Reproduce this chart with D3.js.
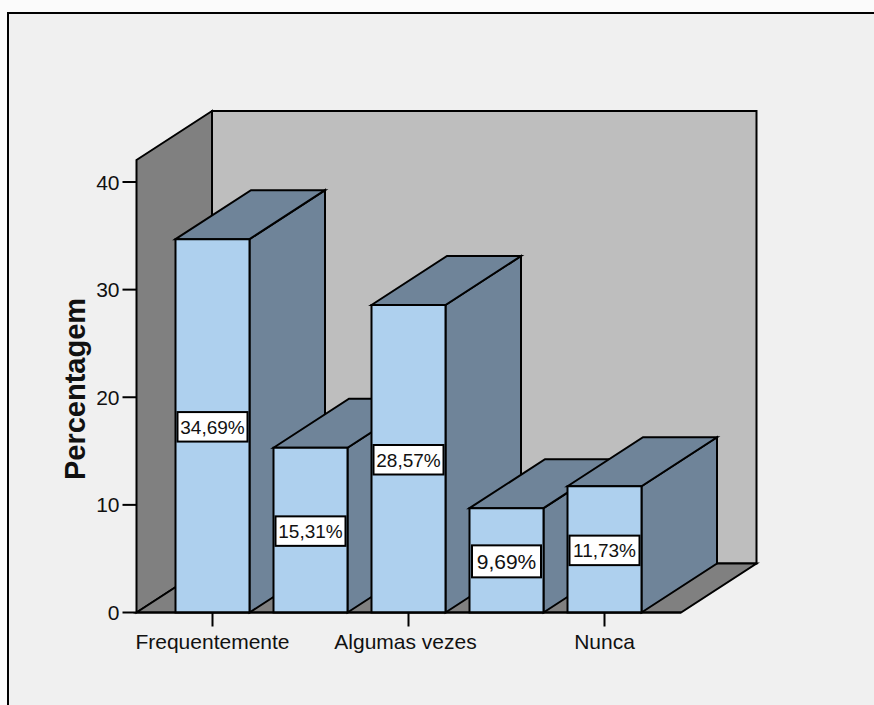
<!DOCTYPE html>
<html><head><meta charset="utf-8">
<script src="https://cdn.jsdelivr.net/npm/d3@7/dist/d3.min.js"></script>
<style>html,body{margin:0;padding:0;background:#f0f0f0}svg{display:block}text{font-family:"Liberation Sans",Arial,sans-serif;fill:#111}</style>
</head><body><svg id="c" width="874" height="705"></svg>
<script>
const categories = ["Frequentemente","Às vezes","Algumas vezes","Raramente","Nunca"];
const shownLabels = ["Frequentemente","Algumas vezes","Nunca"];
const values = [34.69,15.31,28.57,9.69,11.73];
const labels = ["34,69%","15,31%","28,57%","9,69%","11,73%"];
const yTicks = [0,10,20,30,40];
const yTitle = "Percentagem";

const svg = d3.select("#c");
const X0=136.5, X1=681, Y0=612.5, dx=75.5, dy=-49;
const y = d3.scaleLinear().domain([0,40]).range([Y0,182]);
const bw = 74;
const x = d3.scalePoint().domain(categories).range([212.5,604.5]);
const poly=(pts,fill,sw=2)=>svg.append("path").attr("d",d3.line()(pts)+"Z").attr("fill",fill).attr("stroke","#000").attr("stroke-width",sw).attr("stroke-linejoin","miter");

svg.append("rect").attr("width",874).attr("height",705).attr("fill","#fbfbfb");
svg.append("rect").attr("x",8).attr("y",13).attr("width",866).attr("height",692).attr("fill","#f0f0f0");
svg.append("path").attr("d","M8,705V13H874").attr("fill","none").attr("stroke","#000").attr("stroke-width",2);

const wallTop = 111-dy;
poly([[X0+dx,wallTop+dy],[X1+dx,wallTop+dy],[X1+dx,Y0+dy],[X0+dx,Y0+dy]],"#bebebe");
poly([[X0,wallTop],[X0+dx,wallTop+dy],[X0+dx,Y0+dy],[X0,Y0]],"#808080");
poly([[X0,Y0],[X0+dx,Y0+dy],[X1+dx,Y0+dy],[X1,Y0]],"#808080");

categories.forEach((c,i)=>{
  const l=x(c)-bw/2, r=l+bw, t=y(values[i]);
  poly([[r,t],[r+dx,t+dy],[r+dx,Y0+dy],[r,Y0]],"#6f8499");
  poly([[l,t],[l+dx,t+dy],[r+dx,t+dy],[r,t]],"#6f8499");
  poly([[l,t],[r,t],[r,Y0],[l,Y0]],"#aed0ee");
  const ty=(t+Y0)/2+1, h=i==3?32:29.5, w=i==3?69:70;
  svg.append("rect").attr("x",x(c)-w/2).attr("y",ty-h/2).attr("width",w).attr("height",h).attr("fill","#fff").attr("stroke","#000").attr("stroke-width",2);
  svg.append("text").attr("x",x(c)).attr("y",ty+(i==3?8:7)).attr("text-anchor","middle").attr("font-size",i==3?21:19).text(labels[i]);
});

svg.append("line").attr("x1",X0).attr("x2",X1).attr("y1",Y0).attr("y2",Y0).attr("stroke","#000").attr("stroke-width",2);
yTicks.forEach(t=>{
  svg.append("line").attr("x1",X0-14).attr("x2",X0).attr("y1",y(t)).attr("y2",y(t)).attr("stroke","#000").attr("stroke-width",2);
  svg.append("text").attr("x",X0-17).attr("y",y(t)+7.5).attr("text-anchor","end").attr("font-size",21).text(t);
});
shownLabels.forEach((c,i)=>{
  svg.append("line").attr("x1",x(c)).attr("x2",x(c)).attr("y1",Y0).attr("y2",Y0+14).attr("stroke","#000").attr("stroke-width",2);
  svg.append("text").attr("x",x(c)-(i==1?3:0)).attr("y",649).attr("text-anchor","middle").attr("font-size",21).text(c);
});
svg.append("text").attr("transform","translate(85,389) rotate(-90)").attr("text-anchor","middle").attr("font-size",29).attr("font-weight","bold").text(yTitle);
</script></body></html>
